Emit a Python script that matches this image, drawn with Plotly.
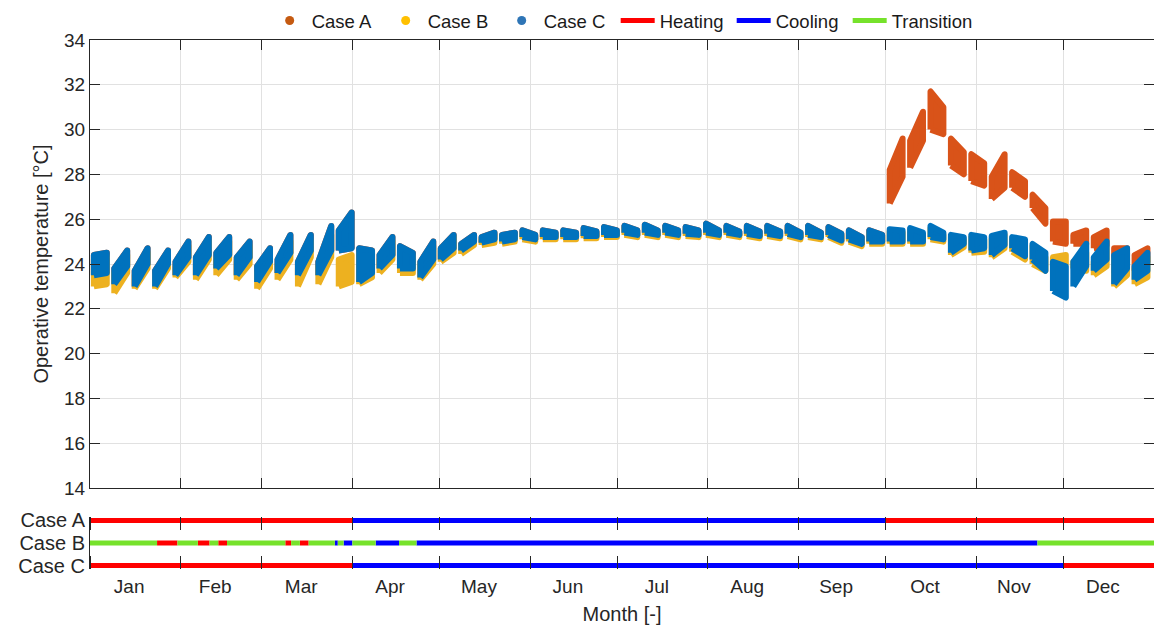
import pandas as pd
import plotly.graph_objects as go
from plotly.subplots import make_subplots

# working weeks of 2023 (Monday dates); each week is one cluster of hourly points
weeks = pd.date_range("2023-01-02", periods=52, freq="7D")

# Case C: temperature envelope at Monday / Friday of each week [°C]
c_mon_lo = [23.5, 23.1, 23.0, 23.0, 23.5, 23.5, 23.8, 23.5, 23.2, 23.6, 23.5, 23.5, 24.6,
            23.2, 23.8, 23.8, 23.4, 24.2, 24.6, 24.95, 25.0, 25.2, 25.2, 25.2, 25.25, 25.3,
            25.4, 25.4, 25.4, 25.35, 25.4, 25.4, 25.35, 25.35, 25.35, 25.3, 25.3, 25.1, 25.0,
            25.0, 25.0, 25.2, 24.5, 24.6, 24.4, 24.7, 24.2, 22.8, 23.0, 23.7, 23.1, 23.3]
c_mon_hi = [24.4, 23.8, 23.7, 23.7, 24.1, 24.3, 24.5, 24.3, 23.9, 24.2, 24.1, 24.1, 25.5,
            24.7, 24.4, 24.8, 24.1, 24.7, 24.9, 25.2, 25.3, 25.5, 25.5, 25.5, 25.6, 25.65,
            25.7, 25.75, 25.7, 25.65, 25.8, 25.7, 25.7, 25.7, 25.7, 25.7, 25.65, 25.5, 25.5,
            25.55, 25.6, 25.7, 25.3, 25.3, 25.25, 25.2, 24.9, 24.1, 24.1, 24.3, 24.4, 23.9]
c_fri_lo = [23.6, 23.9, 24.0, 24.0, 24.3, 24.4, 24.4, 24.3, 24.1, 24.5, 24.6, 24.6, 24.7,
            23.6, 24.4, 23.8, 24.2, 24.7, 25.0, 25.1, 25.1, 25.1, 25.2, 25.2, 25.25, 25.3,
            25.3, 25.3, 25.3, 25.3, 25.3, 25.3, 25.25, 25.25, 25.2, 25.2, 25.05, 24.9, 25.0,
            25.0, 25.0, 25.1, 24.9, 24.7, 24.85, 24.35, 23.7, 22.5, 23.9, 24.2, 23.8, 23.7]
c_fri_hi = [24.5, 24.6, 24.7, 24.6, 25.0, 25.2, 25.2, 25.0, 24.7, 25.3, 25.3, 25.7, 26.3,
            24.6, 25.2, 24.5, 25.0, 25.3, 25.3, 25.4, 25.4, 25.3, 25.4, 25.4, 25.45, 25.5,
            25.5, 25.5, 25.5, 25.5, 25.5, 25.45, 25.45, 25.45, 25.4, 25.4, 25.35, 25.2, 25.3,
            25.5, 25.4, 25.4, 25.2, 25.2, 25.4, 25.1, 24.5, 23.9, 24.9, 25.0, 24.7, 24.5]

# Case B
b_mon_lo = [23.0, 22.7, 22.9, 22.9, 23.4, 23.3, 23.5, 23.3, 22.9, 23.3, 23.0, 23.1, 23.0,
            23.1, 23.6, 23.6, 23.3, 24.1, 24.45, 24.85, 24.9, 25.1, 25.1, 25.1, 25.15, 25.2,
            25.3, 25.3, 25.3, 25.25, 25.3, 25.3, 25.25, 25.25, 25.25, 25.2, 25.2, 25.0, 24.9,
            24.9, 24.9, 25.1, 24.4, 24.5, 24.3, 24.55, 24.0, 23.9, 23.8, 23.5, 23.0, 23.1]
b_mon_hi = [24.2, 23.6, 23.5, 23.5, 23.9, 24.0, 24.3, 24.1, 23.6, 24.0, 23.8, 23.9, 24.2,
            24.5, 24.2, 24.6, 24.0, 24.6, 24.8, 25.1, 25.2, 25.4, 25.4, 25.4, 25.5, 25.55,
            25.6, 25.65, 25.6, 25.55, 25.7, 25.6, 25.6, 25.6, 25.6, 25.6, 25.55, 25.4, 25.4,
            25.45, 25.5, 25.6, 25.2, 25.2, 25.15, 25.1, 24.8, 24.3, 24.1, 24.1, 24.2, 23.8]
b_fri_lo = [23.1, 23.6, 23.8, 23.8, 24.1, 24.2, 24.2, 24.0, 23.8, 24.2, 24.3, 24.3, 23.2,
            23.4, 24.2, 23.6, 24.0, 24.5, 24.85, 24.95, 25.0, 25.0, 25.1, 25.1, 25.15, 25.2,
            25.2, 25.2, 25.2, 25.2, 25.2, 25.2, 25.15, 25.15, 25.1, 25.1, 24.95, 24.8, 24.9,
            24.9, 24.9, 25.0, 24.75, 24.55, 24.7, 24.2, 23.7, 24.0, 23.7, 23.9, 23.5, 23.4]
b_fri_hi = [24.3, 24.4, 24.5, 24.4, 24.8, 25.0, 25.0, 24.8, 24.4, 25.0, 25.0, 25.3, 24.4,
            24.5, 25.0, 24.3, 24.8, 25.2, 25.2, 25.3, 25.3, 25.2, 25.3, 25.3, 25.35, 25.4,
            25.4, 25.4, 25.4, 25.4, 25.4, 25.35, 25.35, 25.35, 25.3, 25.3, 25.25, 25.1, 25.2,
            25.4, 25.3, 25.3, 25.1, 25.1, 25.3, 25.0, 24.3, 24.4, 24.5, 24.7, 24.5, 24.3]

# Case A: same as Case C until the end of September, then its own values
a_mon_lo = c_mon_lo[:39] + [26.7, 28.3, 30.0, 28.4, 27.7, 26.9, 27.4, 26.5, 25.0, 24.9, 24.7, 23.6, 23.7]
a_mon_hi = c_mon_hi[:39] + [28.2, 29.5, 31.7, 29.6, 28.9, 27.9, 28.1, 27.1, 25.9, 25.3, 25.2, 24.7, 24.4]
a_fri_lo = c_fri_lo[:39] + [27.9, 29.5, 29.8, 28.0, 27.5, 27.4, 27.0, 25.8, 24.9, 24.9, 24.8, 23.9, 24.1]
a_fri_hi = c_fri_hi[:39] + [29.6, 30.8, 31.0, 29.0, 28.5, 28.9, 27.7, 26.5, 25.9, 25.5, 25.5, 24.7, 24.7]

# operating modes
a_edges = ["2023-01-01", "2023-04-01", "2023-10-01", "2024-01-01"]
a_modes = ["Heating", "Cooling", "Heating"]
b_edges = ["2023-01-01", "2023-01-24", "2023-01-31", "2023-02-07", "2023-02-11", "2023-02-14",
           "2023-02-17", "2023-03-09", "2023-03-11", "2023-03-14", "2023-03-17", "2023-03-26",
           "2023-03-27", "2023-03-29", "2023-04-01", "2023-04-09", "2023-04-17", "2023-04-23",
           "2023-11-22", "2024-01-01"]
b_modes = ["Transition", "Heating", "Transition", "Heating", "Transition", "Heating", "Transition",
           "Heating", "Transition", "Heating", "Transition", "Cooling", "Transition", "Cooling",
           "Transition", "Cooling", "Transition", "Cooling", "Transition"]
c_edges = ["2023-01-01", "2023-04-01", "2023-12-01", "2024-01-01"]
c_modes = ["Heating", "Cooling", "Heating"]

case_colors = {"Case A": "#D95319", "Case B": "#EDB120", "Case C": "#0072BD"}
legend_colors = {"Case A": "#C55A11", "Case B": "#FFC000", "Case C": "#2E75B6"}
mode_colors = {"Heating": "#FF0000", "Cooling": "#0000FF", "Transition": "#76E22B"}


def blobs(mon_lo, mon_hi, fri_lo, fri_hi):
    xs, ys = [], []
    for i, mon in enumerate(weeks):
        t0 = (mon + pd.Timedelta(hours=8)).strftime("%Y-%m-%d %H:%M")
        t1 = (mon + pd.Timedelta(days=4, hours=18)).strftime("%Y-%m-%d %H:%M")
        xs += [t0, t1, t1, t0, t0, None]
        ys += [mon_lo[i], fri_lo[i], fri_hi[i], mon_hi[i], mon_lo[i], None]
    return xs, ys


fig = make_subplots(rows=2, cols=1, shared_xaxes=True)

# legend entries
for name, col in legend_colors.items():
    fig.add_trace(go.Scatter(x=[None], y=[None], mode="markers", name=name,
                             marker=dict(color=col, size=9)), row=1, col=1)

cases = [("Case A", a_mon_lo, a_mon_hi, a_fri_lo, a_fri_hi),
         ("Case B", b_mon_lo, b_mon_hi, b_fri_lo, b_fri_hi),
         ("Case C", c_mon_lo, c_mon_hi, c_fri_lo, c_fri_hi)]
for name, mlo, mhi, flo, fhi in cases:
    xs, ys = blobs(mlo, mhi, flo, fhi)
    fig.add_trace(go.Scatter(x=xs, y=ys, mode="lines", fill="toself",
                             fillcolor=case_colors[name],
                             line=dict(color=case_colors[name], width=6),
                             showlegend=False, hoverinfo="skip"), row=1, col=1)

# mode bars
levels = {"Case A": 3, "Case B": 2, "Case C": 1}
schedules = {"Case A": (a_edges, a_modes), "Case B": (b_edges, b_modes), "Case C": (c_edges, c_modes)}
for mode, col in mode_colors.items():
    xs, ys = [], []
    for case, (edges, modes) in schedules.items():
        for i, m in enumerate(modes):
            if m == mode:
                xs += [edges[i], edges[i + 1], None]
                ys += [levels[case], levels[case], None]
    fig.add_trace(go.Scatter(x=xs, y=ys, mode="lines", name=mode,
                             line=dict(color=col, width=5)), row=2, col=1)

# empty entry so the last legend label has room
fig.add_trace(go.Scatter(x=[None], y=[None], mode="lines", name=" ",
                         line=dict(width=0)), row=2, col=1)

axcol = "#262626"
gridcol = "#E1E1E1"
fig.update_layout(
    width=1154, height=627,
    margin=dict(l=90, r=0, t=40, b=58),
    plot_bgcolor="white", paper_bgcolor="white",
    font=dict(family="Liberation Sans, Arial, sans-serif", size=19, color=axcol),
    legend=dict(orientation="h", x=0.167, xanchor="left", y=1.036, yanchor="middle",
                itemwidth=34, entrywidth=67, font=dict(size=18.5, color="#1a1a1a"),
                bgcolor="rgba(0,0,0,0)"),
    xaxis=dict(domain=[0, 1], type="date", range=["2023-01-01", "2024-01-01"],
               dtick="M1", tick0="2023-01-01", showticklabels=False,
               ticks="inside", ticklen=10, tickcolor=axcol, showline=True, linecolor=axcol,
               mirror="ticks", showgrid=True, gridcolor=gridcol),
    yaxis=dict(domain=[0.1531, 1], range=[14, 34], dtick=2, ticks="inside", ticklen=10,
               tickcolor=axcol, showline=True, linecolor=axcol, mirror="ticks",
               showgrid=True, gridcolor=gridcol, zeroline=False,
               title=dict(text="Operative temperature [°C]", font=dict(size=20), standoff=10)),
    xaxis2=dict(domain=[0, 1], type="date", range=["2023-01-01", "2024-01-01"],
                dtick="M1", tick0="2023-01-01", tickformat="%b", ticklabelmode="period",
                ticklabelshift=-6, ticklabelstandoff=4,
                ticks="inside", ticklen=13, tickcolor=axcol, showline=False, mirror="ticks",
                showgrid=False, tickfont=dict(size=19),
                title=dict(text="Month [-]", font=dict(size=20), standoff=10)),
    yaxis2=dict(domain=[0, 0.0983], range=[0.85, 3.15], tickvals=[3, 2, 1],
                ticktext=["Case A", "Case B", "Case C"], ticks="", showline=True,
                linecolor=axcol, showgrid=False, zeroline=False, tickfont=dict(size=20)),
)

fig.write_html(
    "out.html",
    config={"displayModeBar": False},
    post_script="document.body.style.margin='0';"
                "document.querySelectorAll('.js-line').forEach(function(p){"
                "p.style.strokeLinejoin='round';});",
)
